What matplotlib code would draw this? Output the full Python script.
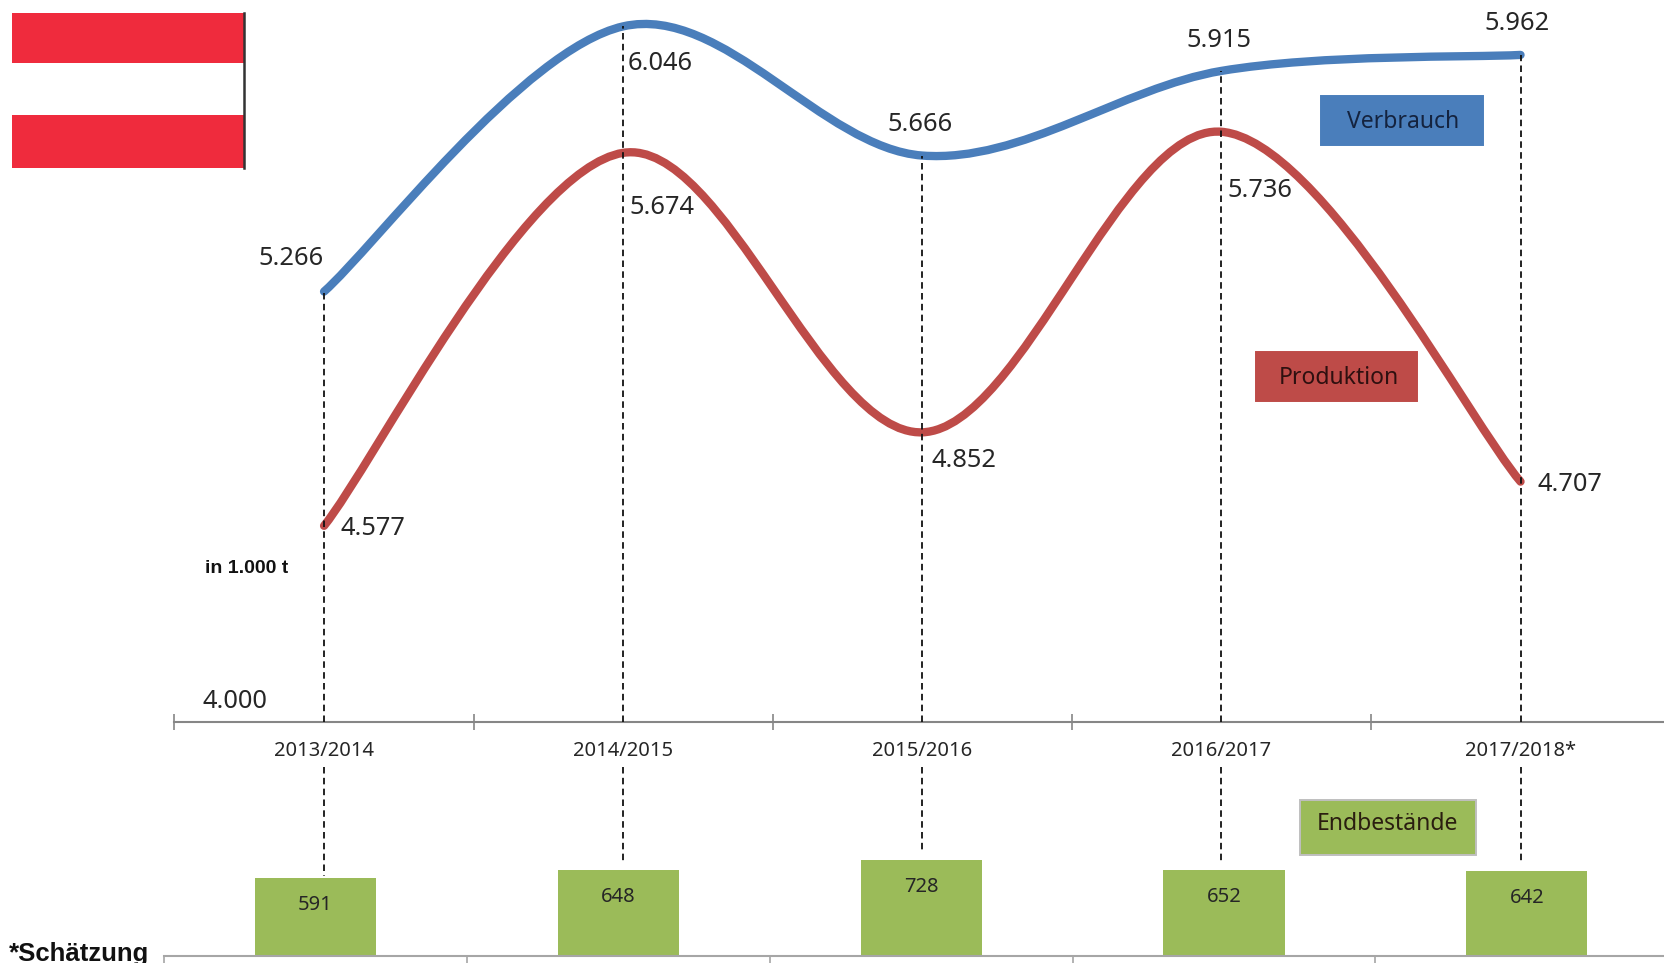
import numpy as np
from matplotlib import pyplot as plt
from matplotlib.patches import Rectangle
from matplotlib.path import Path
from matplotlib.patches import PathPatch
from matplotlib.transforms import blended_transform_factory

# Values
seasons = ['2013/2014', '2014/2015', '2015/2016', '2016/2017', '2017/2018*']
verbrauch = [5266, 6046, 5666, 5915, 5962]
produktion = [4577, 5674, 4852, 5736, 4707]
endbestaende = [591, 648, 728, 652, 642]

# Label offsets from their point, in pixels
verbrauch_offsets = [(-33, 33), (37, -37), (-2, 31), (-2, 30), (-3, 31)]
produktion_offsets = [(49, -3), (39, -55), (42, -28), (39, -59), (49, -3)]
connector_gaps = [2, 7, 10, 7, 7]

W, H = 1665, 963
BLUE = '#4A7EBB'
RED = '#BE4B48'
GREEN = '#9BBB59'
TEXT = '#262626'

plt.rcParams['font.family'] = ['Noto Sans', 'DejaVu Sans']


def axes_from_pixels(left, top, right, bottom):
    return fig.add_axes([left / W, 1 - bottom / H, (right - left) / W, (bottom - top) / H])


def smooth_path(xs, ys):
    # same kind of curve Excel uses for a smoothed line
    pts = np.column_stack([xs, ys]).astype(float)
    verts = [pts[0]]
    codes = [Path.MOVETO]
    n = len(pts)
    for i in range(n - 1):
        before = pts[max(i - 1, 0)]
        after = pts[min(i + 2, n - 1)]
        verts.append(pts[i] + (pts[i + 1] - before) / 6)
        verts.append(pts[i + 1] - (after - pts[i]) / 6)
        verts.append(pts[i + 1])
        codes += [Path.CURVE4, Path.CURVE4, Path.CURVE4]
    return Path(verts, codes)


fig = plt.figure(figsize=(W / 100, H / 100), dpi=100)

# Upper chart
ax = axes_from_pixels(174.5, 0, W, 722)
ax.patch.set_visible(False)
x = np.arange(len(seasons))
ax.set_xlim(-0.5, 4.483)
ax.set_ylim(4000, 4000 + 722 / 0.34)

for i in x:
    ax.plot([i, i], [4000, verbrauch[i]], color='#111111', lw=1.3,
            linestyle=(0, (3.6, 2.4)), zorder=3)

for values, color, offsets in [(verbrauch, BLUE, verbrauch_offsets),
                               (produktion, RED, produktion_offsets)]:
    ax.add_patch(PathPatch(smooth_path(x, values), fill=False, edgecolor=color, lw=6,
                           capstyle='round', zorder=2))
    for i, v in enumerate(values):
        label = f'{v:,}'.replace(',', '.')
        ax.annotate(label, (i, v), xytext=offsets[i], textcoords='offset pixels',
                    ha='center', va='center', fontsize=18.3, color=TEXT, zorder=4)

ax.annotate('4.000', (-0.5, 4000), xytext=(60, 21), textcoords='offset pixels',
            ha='center', va='center', fontsize=18.3, color=TEXT)
ax.annotate('in 1.000 t', (-0.5, 4000), xytext=(72, 154), textcoords='offset pixels',
            ha='center', va='center', fontsize=14, fontweight='bold',
            family='Liberation Sans', color='#111111')

for side in ['top', 'left', 'right']:
    ax.spines[side].set_visible(False)
ax.spines['bottom'].set_color('#868686')
ax.spines['bottom'].set_linewidth(1.5)
ax.set_yticks([])
ax.set_xticks(x, seasons, fontsize=14.5, color=TEXT)
ax.set_xticks(np.arange(-0.5, 4.5), minor=True)
ax.tick_params(axis='x', which='major', length=0, pad=14)
ax.tick_params(axis='x', which='minor', direction='inout', length=11.5, width=1.2, color='#868686')

# Lower chart
bar_ax = axes_from_pixels(164, 760, W, 956)
bar_ax.patch.set_visible(False)
bar_ax.set_xlim(-0.5, 4.456)
bar_ax.set_ylim(0, 196 / 0.132)
bar_ax.bar(x, endbestaende, width=0.4, color=GREEN, zorder=2)
for i, v in enumerate(endbestaende):
    bar_ax.annotate(str(v), (i, v), xytext=(0, -27), textcoords='offset pixels',
                    ha='center', va='center', fontsize=14.5, color=TEXT)
for side in ['top', 'left', 'right']:
    bar_ax.spines[side].set_visible(False)
bar_ax.spines['bottom'].set_color('#A6A6A6')
bar_ax.spines['bottom'].set_linewidth(1.5)
bar_ax.set_yticks([])
bar_ax.set_xticks(np.arange(-0.5, 4.5))
bar_ax.set_xticklabels([])
bar_ax.tick_params(axis='x', direction='out', length=7, width=1.2, color='#A6A6A6')

# Dashes between the season label and the bar
link = blended_transform_factory(ax.transData, bar_ax.transData)
for i, v in enumerate(endbestaende):
    bar_ax.plot([i, i], [(956 - 767) / 0.132, v + connector_gaps[i] / 0.132], transform=link,
                color='#111111', lw=1.3, linestyle=(0, (3.6, 2.4)), clip_on=False, zorder=1)

# Flag, legend boxes and notes, placed in pixels
over = fig.add_axes([0, 0, 1, 1])
over.set_xlim(0, W)
over.set_ylim(H, 0)
over.axis('off')
over.patch.set_visible(False)

over.add_patch(Rectangle((12, 13), 233, 50, color='#EF2B3D', lw=0))
over.add_patch(Rectangle((12, 115), 233, 53, color='#EF2B3D', lw=0))
over.plot([244.5, 244.5], [13, 168], color='#333333', lw=1.8)

for left, top, right, bottom, color, edge, label, tx, ty, tcolor in [
    (1321, 96, 1483, 145, BLUE, BLUE, 'Verbrauch', 1403, 122, '#14233F'),
    (1256, 352, 1417, 401, RED, RED, 'Produktion', 1339, 378, '#2E1010'),
    (1300, 800, 1476, 855, GREEN, '#BFBFBF', 'Endbestände', 1387, 824, '#2A1E10'),
]:
    over.add_patch(Rectangle((left, top), right - left, bottom - top, facecolor=color,
                             edgecolor=edge, lw=1.4))
    over.text(tx, ty, label, ha='center', va='center', fontsize=16.5, color=tcolor)

over.text(9, 954, '*Schätzung', ha='left', va='center', fontsize=18.5, fontweight='bold',
          family='Liberation Sans', color='#111111')

fig.savefig('out.png', dpi=100)
